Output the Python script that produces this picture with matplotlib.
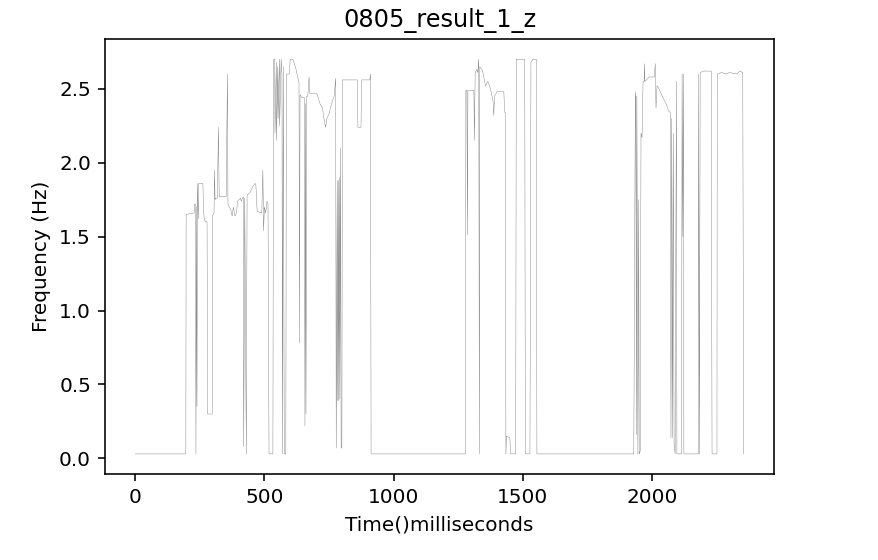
import matplotlib
matplotlib.use("Agg")
import matplotlib.pyplot as plt

# time (ms) and frequency (Hz)
time_ms = [0, 196, 197, 228, 229, 233, 235, 237, 239, 241, 244, 246, 262, 264, 267, 272, 278,
           280, 298, 299, 305, 307, 309, 312, 318, 322, 325, 340, 352, 357, 359, 370, 375,
           380, 386, 392, 396, 408, 410, 418, 420, 424, 430, 433, 445, 455, 464, 467, 472,
           490, 494, 497, 500, 505, 510, 514, 518, 533, 535, 536, 540, 541, 546, 547, 552,
           553, 558, 559, 565, 568, 570, 573, 577, 583, 585, 596, 600, 610, 620, 634, 636,
           638, 645, 655, 657, 659, 661, 664, 668, 673, 675, 700, 705, 715, 725, 732, 737,
           742, 750, 760, 770, 776, 778, 782, 784, 786, 788, 790, 792, 795, 797, 800, 802,
           860, 862, 874, 876, 908, 911, 913,
           1279, 1280, 1284, 1286, 1288, 1311, 1313, 1316, 1322, 1326, 1330, 1332, 1334,
           1345, 1356, 1365, 1375, 1385, 1388, 1391, 1401, 1415, 1427, 1430, 1433, 1435,
           1437, 1450, 1453, 1473, 1475, 1508, 1510, 1528, 1532, 1540, 1553, 1555,
           1930, 1936, 1938, 1940, 1942, 1946, 1949, 1951, 1955, 1958, 1962, 1966, 1970,
           1971, 1973, 1990, 2010, 2013, 2016, 2020, 2028, 2040, 2055, 2065, 2071, 2074,
           2077, 2080, 2083, 2086, 2090, 2095, 2097, 2115, 2117, 2120, 2122, 2124, 2180,
           2181, 2184, 2187, 2200, 2230, 2233, 2252, 2253, 2270, 2290, 2300, 2330, 2340,
           2352, 2355]
freq_hz = [0.03, 0.03, 1.65, 1.66, 1.72, 1.72, 0.03, 1.70, 0.35, 1.86, 1.62, 1.86, 1.86, 1.70,
           1.62, 1.60, 1.60, 0.30, 0.30, 1.64, 1.66, 1.95, 1.75, 1.76, 1.76, 2.24, 1.77, 1.77,
           1.77, 2.60, 1.72, 1.68, 1.64, 1.70, 1.64, 1.66, 1.74, 1.76, 1.74, 1.77, 0.08, 1.76,
           0.03, 1.78, 1.80, 1.84, 1.86, 1.85, 1.67, 1.66, 1.95, 1.54, 1.70, 1.66, 1.74, 1.72,
           0.03, 0.03, 2.55, 2.70, 2.70, 2.20, 2.68, 2.15, 2.65, 2.30, 2.70, 2.25, 2.70, 2.60,
           0.03, 2.65, 0.03, 0.03, 2.60, 2.60, 2.70, 2.70, 2.65, 2.54, 0.78, 2.46, 2.44, 2.44,
           0.22, 2.40, 0.30, 2.45, 2.45, 2.58, 2.47, 2.47, 2.46, 2.40, 2.37, 2.28, 2.24, 2.30,
           2.33, 2.40, 2.45, 2.57, 0.07, 1.88, 0.39, 1.88, 0.39, 1.90, 0.40, 2.10, 0.07, 0.07,
           2.56, 2.56, 2.24, 2.24, 2.56, 2.56, 2.60, 0.03,
           0.03, 2.49, 2.49, 1.51, 2.49, 2.49, 2.15, 2.61, 2.63, 2.61, 2.70, 0.03, 2.65,
           2.62, 2.52, 2.55, 2.50, 2.42, 2.32, 2.45, 2.48, 2.48, 2.48, 2.34, 2.34, 0.03,
           0.15, 0.14, 0.03, 0.03, 2.70, 2.70, 0.03, 0.03, 2.68, 2.70, 2.70, 0.03,
           0.03, 2.44, 2.48, 0.16, 2.45, 0.03, 1.75, 0.03, 0.05, 2.20, 2.17, 2.55, 2.55,
           2.67, 2.55, 2.58, 2.58, 2.67, 2.37, 2.52, 2.50, 2.45, 2.40, 2.35, 2.34, 0.14,
           2.30, 0.14, 2.20, 0.10, 0.03, 2.55, 0.03, 0.03, 2.60, 1.50, 2.60, 0.03, 0.03,
           2.60, 0.03, 2.61, 2.62, 2.62, 0.03, 0.03, 2.60, 2.61, 2.60, 2.61, 2.60, 2.62,
           2.61, 0.03]

fig = plt.figure(figsize=(878 / 144, 560 / 144), dpi=144)
ax = fig.add_axes([0.1196, 0.153, 0.762, 0.7774])

ax.plot(time_ms, freq_hz, color='k', linewidth=0.2, alpha=0.55)

ax.set_xlim(-117, 2473)
ax.set_ylim(-0.108, 2.837)
ax.set_title('0805_result_1_z')
ax.set_xlabel('Time()milliseconds')
ax.set_ylabel('Frequency (Hz)')

fig.savefig('out.png', dpi=144)
